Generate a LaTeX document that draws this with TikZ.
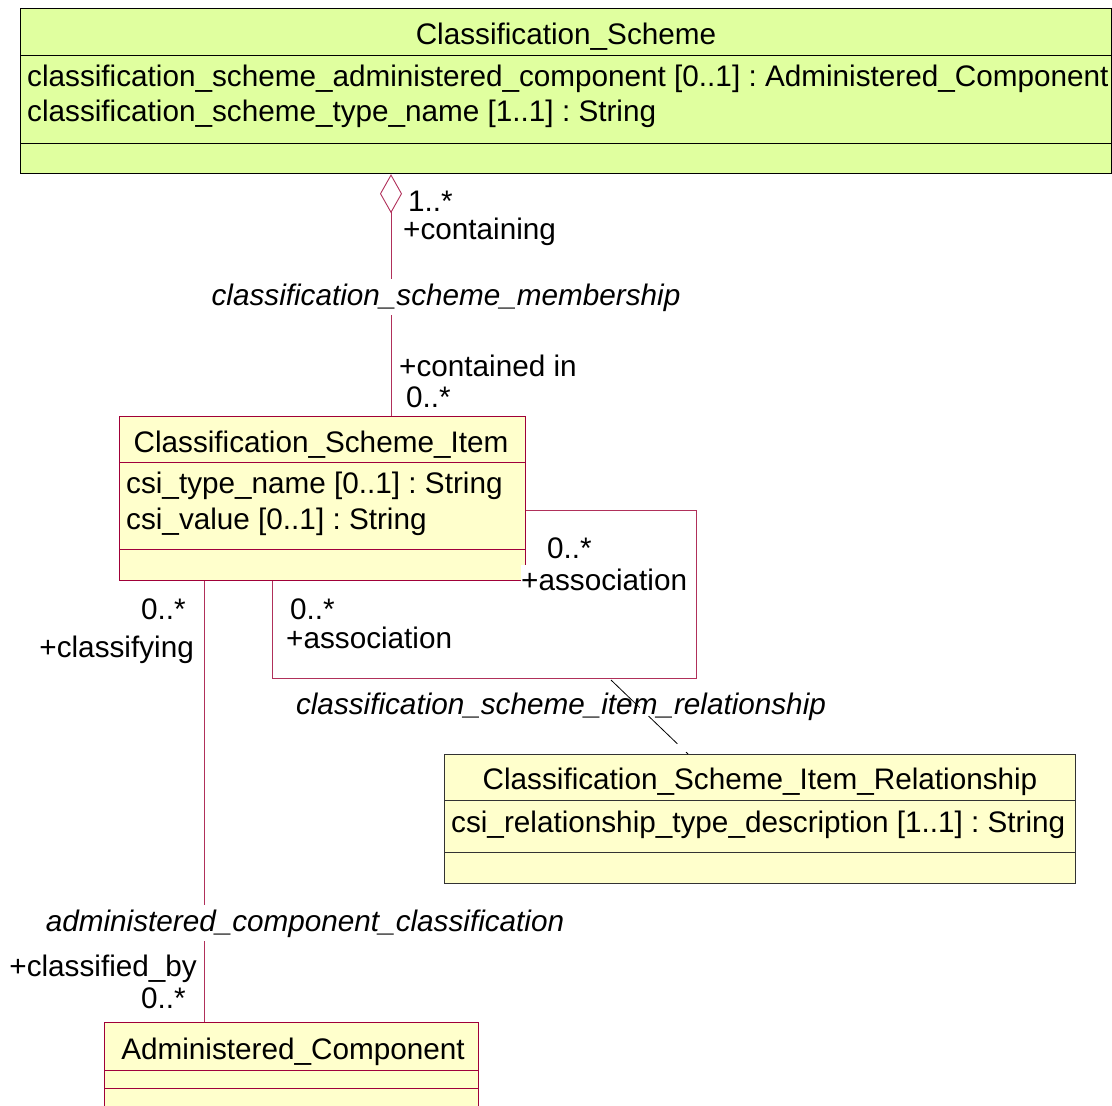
\documentclass[tikz,border=0pt]{standalone}
\usepackage{fontspec}
\setmainfont{Liberation Sans}
\usetikzlibrary{arrows.meta}
\frenchspacing
\definecolor{schemefill}{HTML}{E0FF9F}
\definecolor{classfill}{HTML}{FFFFCC}
\definecolor{assoc}{HTML}{B0305A}
\definecolor{classedge}{HTML}{A00038}
\definecolor{sepline}{HTML}{A0003C}
\begin{document}
\begin{tikzpicture}[x=1pt,y=-1pt,
  every node/.style={font=\fontsize{29.7}{34}\selectfont, inner sep=0pt},
  classbox/.style={draw=classedge, fill=classfill, line width=1.2pt, anchor=north west},
  schemebox/.style={draw=black, fill=schemefill, line width=1.2pt, anchor=north west},
  relbox/.style={draw=black!80, fill=classfill, line width=1pt, anchor=north west},
  conn/.style={draw=assoc, line width=0.9pt},
  lbl/.style={anchor=base west},
  rlbl/.style={anchor=base east},
  assocname/.style={anchor=base, font=\fontsize{29.7}{34}\selectfont\itshape, fill=white, inner ysep=4pt}]
\useasboundingbox (0,0) rectangle (1112,1106);
\clip (0,0) rectangle (1112,1106);

% Classification_Scheme
\node[schemebox, minimum width=1091pt, minimum height=165pt] (cs) at (20,8) {};
\draw[line width=1pt] (20,55) -- (1111,55) (20,143) -- (1111,143);
\node[anchor=base] (csT) at (566,44) {Classification\_Scheme};
\node[lbl] (csA1) at (27,86) {classification\_scheme\_administered\_component [0..1] : Administered\_Component};
\node[lbl] (csA2) at (27,121) {classification\_scheme\_type\_name [1..1] : String};

% Classification_Scheme_Item
\node[classbox, minimum width=406pt, minimum height=164pt] (csi) at (119,416) {};
\draw[sepline, line width=1pt] (119,462) -- (525,462) (119,549) -- (525,549);
\node[anchor=base] (csiT) at (321,452) {Classification\_Scheme\_Item};
\node[lbl] (csiA1) at (126,493) {csi\_type\_name [0..1] : String};
\node[lbl] (csiA2) at (126,529) {csi\_value [0..1] : String};

% Classification_Scheme_Item_Relationship
\node[relbox, minimum width=631pt, minimum height=129pt] (csir) at (444,754) {};
\draw[black!80, line width=1pt] (444,800) -- (1075,800) (444,852) -- (1075,852);
\node[anchor=base] (csirT) at (760,789) {Classification\_Scheme\_Item\_Relationship};
\node[lbl] (csirA1) at (451,832) {csi\_relationship\_type\_description [1..1] : String};

% Administered_Component
\node[classbox, minimum width=374pt, minimum height=110pt] (ac) at (104,1022) {};
\draw[sepline, line width=1pt] (104,1070) -- (478,1070) (104,1088) -- (478,1088);
\node[anchor=base] (acT) at (293,1059) {Administered\_Component};

% classification_scheme_membership (aggregation)
\coordinate (memx) at (391,0);
\draw[conn, {Diamond[open, length=39pt, width=22pt, line width=0.9pt]}-] (cs.south -| memx) -- (csi.north -| memx);
\node[lbl] (m1) at (408,211) {1..*};
\node[lbl] (m2) at (403,239) {+containing};
\node[assocname] (memName) at (446,305) {classification\_scheme\_membership};
\node[lbl] (m3) at (399,376) {+contained in};
\node[lbl] (m4) at (406,407) {0..*};

% classification_scheme_item_relationship (self association)
\coordinate (loopA) at (696,510);
\coordinate (loopB) at (272,678);
\draw[conn] (csi.east |- loopA) -- (loopA) |- (loopB) -- (csi.south -| loopB);
\node[lbl] (r1) at (547,558) {0..*};
\node[lbl, fill=white, inner ysep=3pt] (r2) at (521,590) {+association};
\node[lbl] (r3) at (290,619) {0..*};
\node[lbl] (r4) at (286,648) {+association};
\node[anchor=base, font=\fontsize{29.7}{34}\selectfont\itshape] (relName) at (561,714) {classification\_scheme\_item\_relationship};
\coordinate (relFoot) at (611,680);
\coordinate (relHead) at (688,0);
\draw[black, line width=0.8pt, dash pattern=on 40pt off 12pt] (relFoot) -- (csir.north -| relHead);

% administered_component_classification
\coordinate (acx) at (204,0);
\draw[conn] (csi.south -| acx) -- (ac.north -| acx);
\node[rlbl] (a1) at (186,619) {0..*};
\node[rlbl] (a2) at (194,657) {+classifying};
\node[assocname] (acName) at (305,931) {administered\_component\_classification};
\node[rlbl] (a3) at (197,976) {+classified\_by};
\node[rlbl] (a4) at (186,1008) {0..*};
\end{tikzpicture}
\end{document}
